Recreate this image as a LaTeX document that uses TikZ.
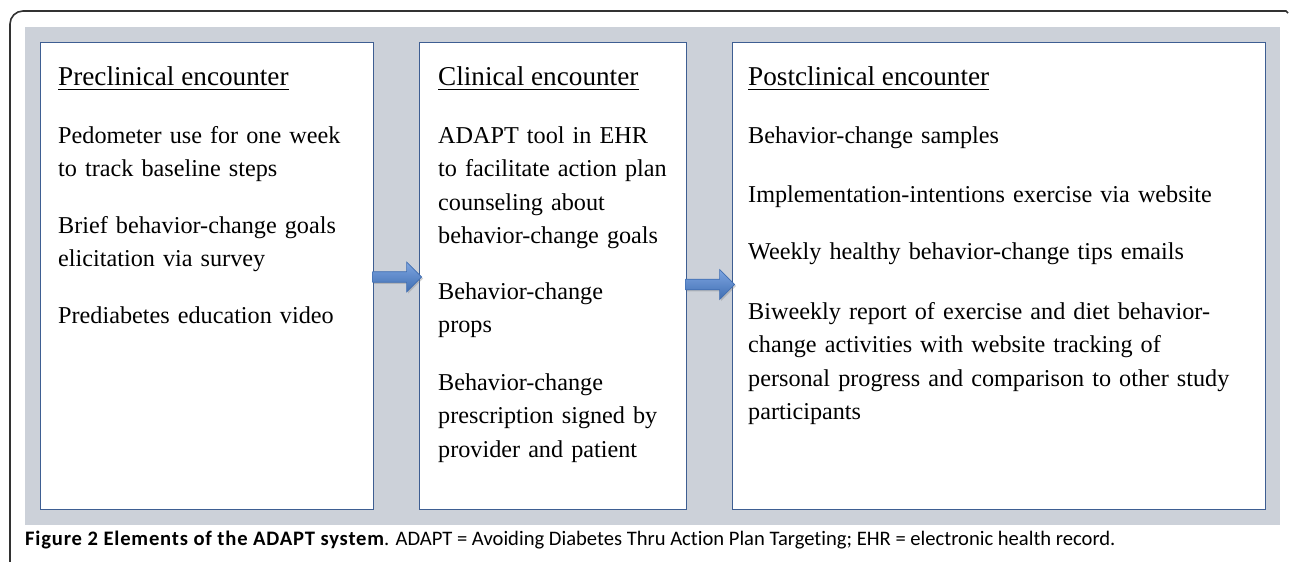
\documentclass[tikz,border=0pt]{standalone}
\usepackage{fontspec}
\setmainfont{Liberation Serif}
\newfontfamily\capfont[Ligatures=NoCommon]{Carlito}
\usetikzlibrary{shapes.arrows,shadows}
\definecolor{bggray}{RGB}{204,209,217}
\definecolor{boxblue}{RGB}{62,94,146}
\definecolor{arrowdark}{RGB}{64,110,178}
\definecolor{arrowlight}{RGB}{125,165,225}
\definecolor{framegray}{RGB}{50,50,50}
\tikzset{
  panel/.style={draw=boxblue, line width=1.3pt, fill=white, inner sep=0pt, anchor=north west},
  ptext/.style={anchor=base west, inner sep=0pt, align=left, text width=#1,
    font=\fontsize{24.2}{33.5}\selectfont},
  ptext/.default=520pt,
  ttl/.style={anchor=base west, inner sep=0pt, font=\fontsize{27.2}{33.5}\selectfont},
  blockarrow/.style={single arrow, draw=arrowdark, line width=0.6pt,
    top color=arrowlight, bottom color=arrowdark, shading angle=0,
    minimum height=49pt, minimum width=30pt, inner sep=3.75pt,
    single arrow head extend=7.5pt, single arrow tip angle=90,
    drop shadow={opacity=0.35, shadow xshift=1.5pt, shadow yshift=-1.5pt}},
  uline/.style={line width=1.4pt}
}
\begin{document}
\begin{tikzpicture}[x=1pt,y=-1pt]
\useasboundingbox (0,0) rectangle (1290,562);
% outer frame
\draw[framegray, line width=1.6pt] (10,562) -- (10,24) arc[start angle=180, end angle=270, radius=13] -- (1286,11) -- (1288,13);
% gray background
\fill[bggray] (25,27) rectangle (1280,525);
% panels
\node[panel, minimum width=333pt, minimum height=467pt] (b1) at (40,42) {};
\node[panel, minimum width=267pt, minimum height=467pt] (b2) at (419,42) {};
\node[panel, minimum width=533pt, minimum height=467pt] (b3) at (732,42) {};
% arrows
\node[blockarrow] (a1) at (394.5,277) {};
\node[blockarrow] (a2) at (707.5,284.5) {};
% box 1
\node[ttl] (t1) at (58,85) {Preclinical encounter};
\draw[uline] ([yshift=-4.3pt]t1.base west) -- ([yshift=-4.3pt]t1.base east);
\node[ptext=310pt] (p11) at (58,143) {Pedometer use for one week\\to track baseline steps};
\node[ptext=310pt] (p12) at (58,233) {Brief behavior-change goals\\elicitation via survey};
\node[ptext=310pt] (p13) at (58,323) {Prediabetes education video};
% box 2
\node[ttl] (t2) at (438,85) {Clinical encounter};
\draw[uline] ([yshift=-4.3pt]t2.base west) -- ([yshift=-4.3pt]t2.base east);
\node[ptext=245pt] (p21) at (438,143) {ADAPT tool in EHR\\to facilitate action plan\\counseling about\\behavior-change goals};
\node[ptext=245pt] (p22) at (438,299) {Behavior-change\\props};
\node[ptext=245pt] (p23) at (438,390) {Behavior-change\\prescription signed by\\provider and patient};
% box 3
\node[ttl] (t3) at (748,85) {Postclinical encounter};
\draw[uline] ([yshift=-4.3pt]t3.base west) -- ([yshift=-4.3pt]t3.base east);
\node[ptext] (p31) at (748,143) {Behavior-change samples};
\node[ptext] (p32) at (748,202) {Implementation-intentions exercise via website};
\node[ptext] (p33) at (748,259) {Weekly healthy behavior-change tips emails};
\node[ptext] (p34) at (748,319) {Biweekly report of exercise and diet behavior-\\change activities with website tracking of\\personal progress and comparison to other study\\participants};
% caption
\node[anchor=base west, inner sep=0pt, font=\capfont\fontsize{20.6}{22}\selectfont] (cap) at (25,545)
  {{\bfseries\addfontfeature{LetterSpace=4}Figure 2 Elements of the ADAPT system}. ADAPT = Avoiding Diabetes Thru Action Plan Targeting; EHR = electronic health record.};
\end{tikzpicture}
\end{document}
